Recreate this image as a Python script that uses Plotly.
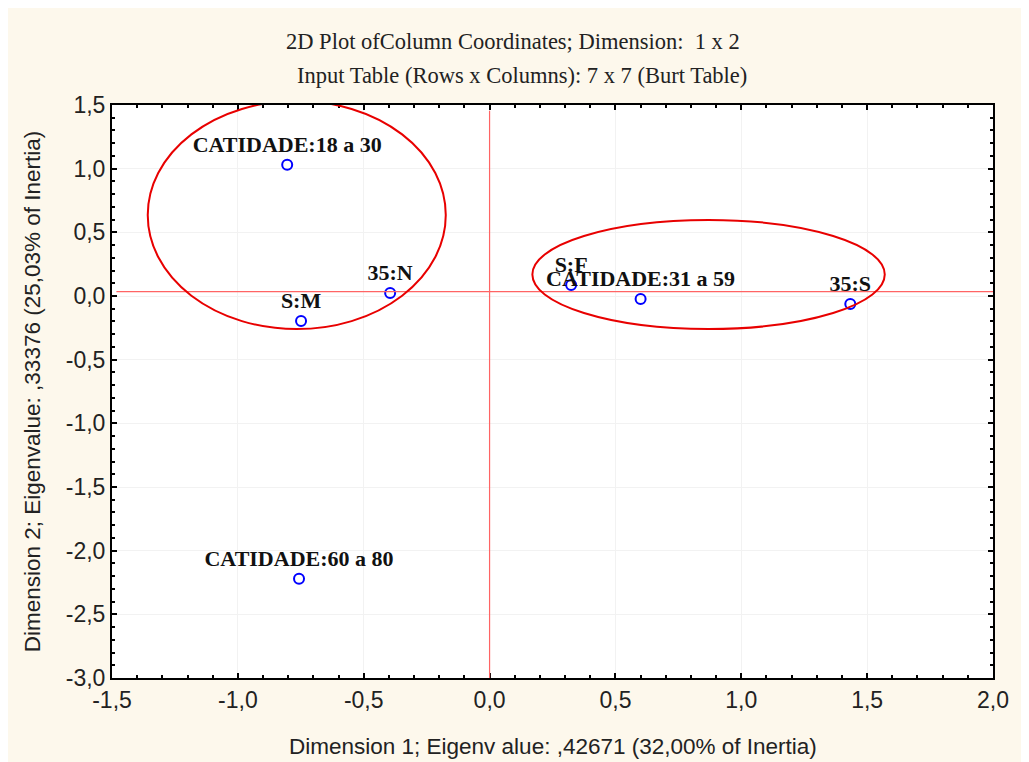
import plotly.graph_objects as go

# --- data ---
labels = ["CATIDADE:18 a 30", "S:M", "35:N", "S:F", "CATIDADE:31 a 59", "35:S", "CATIDADE:60 a 80"]
dim1 = [-0.804, -0.749, -0.395, 0.324, 0.600, 1.433, -0.757]
dim2 = [1.03, -0.196, 0.024, 0.086, -0.024, -0.063, -2.22]

# reference lines (red cross)
ref_x = 0.0
ref_y = 0.035

# highlight ellipses: center x, center y, radius x, radius y
ell_cx = [-0.766, 0.870]
ell_cy = [0.636, 0.169]
ell_rx = [0.592, 0.700]
ell_ry = [0.896, 0.428]

xticks = [-1.5, -1.0, -0.5, 0.0, 0.5, 1.0, 1.5, 2.0]
xticklabels = ["-1,5", "-1,0", "-0,5", "0,0", "0,5", "1,0", "1,5", "2,0"]
yticks = [1.5, 1.0, 0.5, 0.0, -0.5, -1.0, -1.5, -2.0, -2.5, -3.0]
yticklabels = ["1,5", "1,0", "0,5", "0,0", "-0,5", "-1,0", "-1,5", "-2,0", "-2,5", "-3,0"]

title1 = "2D Plot ofColumn Coordinates; Dimension:  1 x 2"
title2 = "Input Table (Rows x Columns): 7 x 7 (Burt Table)"
xtitle = "Dimension 1; Eigenv alue: ,42671 (32,00% of Inertia)"
ytitle = "Dimension 2; Eigenvalue: ,33376 (25,03% of Inertia)"

fig = go.Figure()

fig.add_trace(go.Scatter(
    x=dim1, y=dim2, mode="markers+text", text=labels,
    textposition="top center",
    textfont=dict(family="Liberation Serif", size=22, color="#111111", weight="bold"),
    marker=dict(symbol="circle-open", size=10, color="#0000FF", line=dict(width=2, color="#0000FF")),
    showlegend=False, cliponaxis=False,
))

shapes = []
shapes.append(dict(type="line", xref="x", yref="paper", x0=ref_x, x1=ref_x, y0=0, y1=0.99,
                   line=dict(color="#FF6464", width=1.2), layer="above"))
shapes.append(dict(type="line", xref="paper", yref="y", x0=0.005, x1=1, y0=ref_y, y1=ref_y,
                   line=dict(color="#FF6464", width=1.2), layer="above"))
for cx, cy, rx, ry in zip(ell_cx, ell_cy, ell_rx, ell_ry):
    shapes.append(dict(type="circle", xref="x", yref="y",
                       x0=cx - rx, x1=cx + rx, y0=cy - ry, y1=cy + ry,
                       line=dict(color="#E80000", width=2)))

axis_common = dict(
    showline=True, linecolor="black", linewidth=2, mirror="allticks",
    ticks="inside", ticklen=5, tickwidth=2, tickcolor="black",
    showgrid=True, gridcolor="#F2F2F2", gridwidth=1, zeroline=False,
    tickfont=dict(family="Liberation Sans", size=23, color="#222222"),
)

fig.update_xaxes(range=[-1.5, 2.0], tickvals=xticks, ticktext=xticklabels,
                 minor=dict(dtick=0.1, ticks="inside", ticklen=3, tickwidth=2, tickcolor="black", showgrid=False),
                 **axis_common)
fig.update_yaxes(range=[-3.0, 1.5], tickvals=yticks, ticktext=yticklabels,
                 minor=dict(dtick=0.1, ticks="inside", ticklen=3, tickwidth=2, tickcolor="black", showgrid=False),
                 **axis_common)

annotations = [
    dict(text=title1, xref="paper", yref="paper", x=0.455, y=1.110, showarrow=False,
         xanchor="center", yanchor="middle", font=dict(family="Liberation Serif", size=22.5, color="#222222")),
    dict(text=title2, xref="paper", yref="paper", x=0.465, y=1.052, showarrow=False,
         xanchor="center", yanchor="middle", font=dict(family="Liberation Serif", size=22.5, color="#222222")),
    dict(text=xtitle, xref="paper", yref="paper", x=0.5, y=-0.120, showarrow=False,
         xanchor="center", yanchor="middle", font=dict(family="Liberation Sans", size=22.5, color="#222222")),
    dict(text=ytitle, xref="paper", yref="paper", x=-0.0899, y=0.5, showarrow=False, textangle=-90,
         xanchor="center", yanchor="middle", font=dict(family="Liberation Sans", size=22.5, color="#222222")),
]

fig.update_layout(
    width=1013, height=754,
    margin=dict(l=104, r=19, t=97, b=84),
    paper_bgcolor="#FDF8EC", plot_bgcolor="white",
    shapes=shapes, annotations=annotations,
    showlegend=False,
)

fig.write_html("out.html")
